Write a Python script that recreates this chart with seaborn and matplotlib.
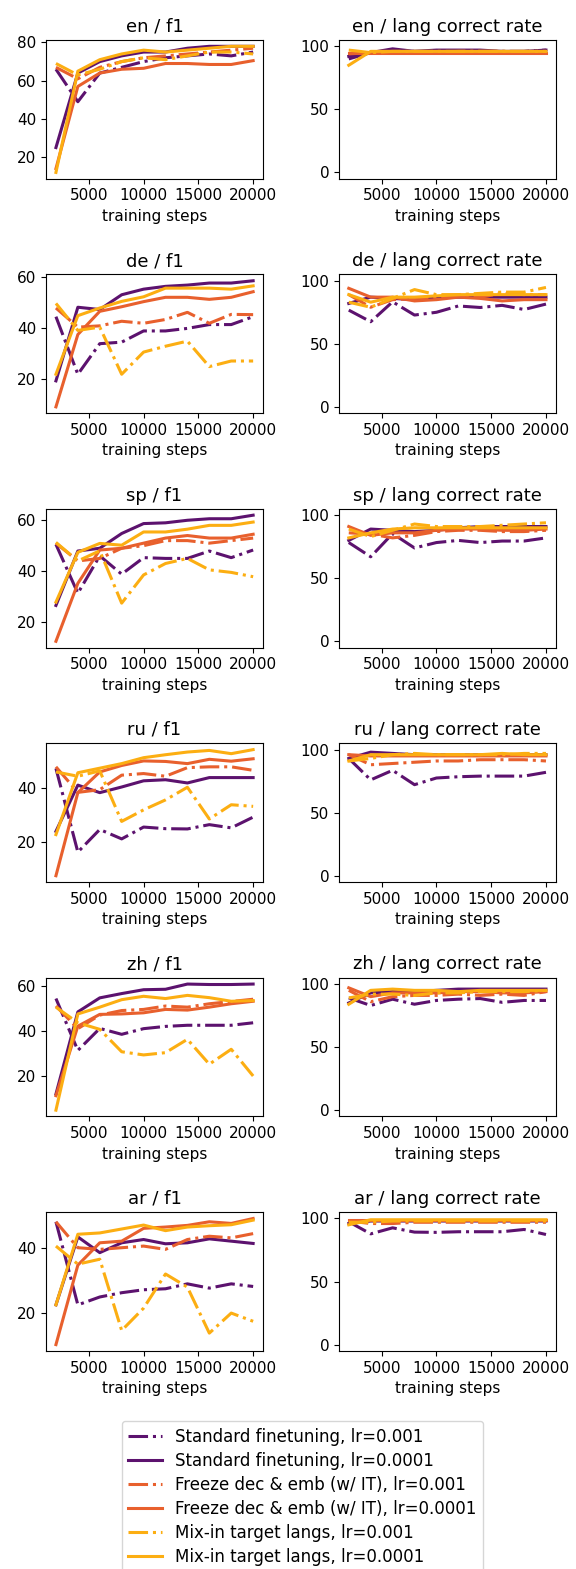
import numpy as np
import pandas as pd
import matplotlib
matplotlib.use("Agg")
import matplotlib.pyplot as plt
import seaborn as sns

steps = [2000, 4000, 6000, 8000, 10000, 12000, 14000, 16000, 18000, 20000]
langs = ["en", "de", "sp", "ru", "zh", "ar"]
series_labels = [
    "Standard finetuning, lr=0.001",
    "Standard finetuning, lr=0.0001",
    "Freeze dec & emb (w/ IT), lr=0.001",
    "Freeze dec & emb (w/ IT), lr=0.0001",
    "Mix-in target langs, lr=0.001",
    "Mix-in target langs, lr=0.0001",
]
series_colors = ["#5c126e", "#5c126e", "#e8602d", "#e8602d", "#fcae12", "#fcae12"]
series_styles = ["-.", "-", "-.", "-", "-.", "-"]

# f1 values per language, one list per series (order as series_labels)
f1_en = [
    [66, 49, 64, 67, 70, 72, 73, 74, 73, 75],
    [25, 64, 70, 73, 75, 75, 77, 78, 78, 78],
    [67, 61, 67, 70, 72, 73, 74, 75, 76, 77],
    [14, 57, 64, 66, 66.5, 69, 69, 68.5, 68.5, 70.5],
    [69, 63, 66, 70, 72, 71, 73, 75, 75, 74],
    [12, 65, 71, 74, 76, 75, 76, 77, 78, 78],
]
f1_de = [
    [44.6, 22, 34, 34.6, 39, 39, 40, 41.5, 41.5, 44.6],
    [19.4, 48.3, 47.4, 53.2, 55.4, 56.5, 57, 57.8, 57.8, 58.7],
    [48, 40.5, 41, 42.8, 42, 43.5, 46.3, 42, 45.5, 45.4],
    [9.2, 37.6, 46.7, 48.5, 50.5, 52.2, 52.2, 51.4, 52.2, 54.4],
    [49.8, 39.2, 40.5, 22, 30.7, 33, 35, 25, 27.2, 27.2],
    [22, 45, 48, 50.6, 52.4, 55.8, 55.8, 55.8, 55.4, 56.7],
]
f1_sp = [
    [50.5, 31.3, 46, 38.8, 45.3, 45, 45, 47.9, 45.3, 48.3],
    [26.5, 47.9, 49, 54.8, 58.7, 59, 60, 60.6, 60.6, 62],
    [51, 44, 45, 49, 50, 52, 52, 51, 52, 53],
    [12.4, 35.2, 48.3, 49, 51, 53, 54, 53, 53, 54.5],
    [51.3, 44, 48, 27.4, 38.5, 43, 45, 40.5, 39.5, 37.8],
    [27.8, 47.4, 50.9, 50.2, 55.4, 55.4, 56.5, 58, 58, 59.3],
]
f1_ru = [
    [47.4, 16.3, 24.7, 21.2, 25.6, 25, 24.9, 26.5, 25.3, 29.3],
    [24, 41.2, 38.4, 40.5, 42.8, 43.2, 42, 44, 44, 44],
    [48, 38.5, 39.5, 44.9, 45.5, 44.5, 47.7, 48, 48, 46.7],
    [7.5, 38.4, 46.1, 48.5, 50.2, 50, 49.2, 50.8, 50.1, 51],
    [46.1, 44.5, 46.5, 27.7, 32, 35.7, 40.4, 28.6, 33.9, 33.3],
    [22.8, 45.8, 47.5, 49.2, 51.4, 52.5, 53.5, 54.1, 52.9, 54.4],
]
f1_zh = [
    [54.3, 31.4, 41.1, 38.5, 41, 42, 42.5, 42.5, 42.5, 43.6],
    [12.1, 48.4, 54.6, 56.5, 58.2, 58.4, 60.7, 60.5, 60.5, 60.7],
    [51, 41, 47, 49, 49.5, 51, 50.5, 52, 53, 54],
    [11.4, 42.1, 47.3, 47.5, 48, 49.5, 49.2, 50.5, 52, 53.1],
    [50.5, 43.6, 40.7, 30.8, 29.4, 30.4, 36.3, 25.3, 31.9, 20.1],
    [5, 47.5, 50.5, 53.8, 55.3, 54.3, 55.7, 54.7, 53.1, 53.4],
]
f1_ar = [
    [47.9, 22.6, 25, 26.3, 27.2, 27.5, 29, 27.7, 29, 28.2],
    [22.6, 43.3, 38.5, 41.5, 42.5, 41.2, 41.5, 42.7, 42, 41.3],
    [47.9, 40, 39.5, 40, 40.5, 39.5, 42.5, 43.5, 43, 44.3],
    [10.5, 34.7, 41.5, 42, 45.9, 46.3, 46.8, 47.9, 47.4, 48.9],
    [40.5, 35, 36.5, 14.8, 21.6, 32, 28, 14, 20.1, 17.6],
    [22.6, 44.1, 44.5, 45.7, 46.9, 45.2, 46.3, 46.7, 47, 48.4],
]

# language correct rate per language
lcr_en = [
    [90, 95, 97, 96, 96, 96, 96, 96, 96, 97],
    [92, 95, 98, 96, 97, 97, 97, 96, 96, 97],
    [94, 95, 95, 95, 95, 96, 96, 96, 95, 95],
    [95, 95, 95, 95, 95, 95, 95, 95, 95, 95],
    [97, 95, 96, 96, 96, 96, 96, 96, 96, 96],
    [85, 96, 96, 96, 96, 96, 96, 96, 96, 96],
]
lcr_de = [
    [76.7, 67.5, 83.3, 72.8, 75, 80, 78.8, 80.5, 77.2, 81.5],
    [82, 87, 86, 85, 87, 87, 87, 87, 87, 87],
    [89, 79, 85, 86, 87, 88, 87, 90, 89, 89],
    [94, 87, 87, 84, 85, 87, 86, 84, 85, 85],
    [83, 79, 86, 93, 89, 89, 90, 91, 91, 94.7],
    [89, 83, 87, 87, 88, 89, 89, 89, 89, 89],
]
lcr_sp = [
    [78.3, 67, 85.4, 74, 78.3, 80, 78.3, 79.5, 79.5, 82],
    [80, 89, 88, 87, 88, 90, 91, 91, 91, 91],
    [86, 85, 82, 84, 87, 88, 88, 87, 87, 88],
    [91, 84, 86, 86, 88, 89, 89, 88, 88, 89],
    [89, 83, 88, 93, 91, 91, 91, 92, 93, 94],
    [82, 86, 89, 90, 90, 90, 90, 90, 90, 90],
]
lcr_ru = [
    [93, 76, 83.6, 72.2, 77.5, 78.5, 79, 79, 79, 82],
    [93, 98, 97, 96, 96, 96, 96, 96, 96, 96],
    [96, 88, 89, 90, 91, 91, 92, 92, 92, 91],
    [96, 95, 95, 95, 95, 95, 95, 95, 95, 95],
    [91, 93, 96, 97, 96, 96, 96, 96, 97, 97],
    [91, 96, 96, 96, 96, 96, 96, 97, 96, 96],
]
lcr_zh = [
    [89, 83, 88, 84, 87, 88, 88.5, 85.5, 87, 87],
    [85, 93, 94, 94, 95, 96, 96, 96, 96, 96],
    [95, 86, 90, 91, 91, 92, 91, 92, 91, 94],
    [97, 90, 93, 93, 93, 94, 94, 93, 93, 94],
    [89, 92, 92, 91, 93, 93, 94, 94, 94, 95],
    [84, 95, 96, 95, 95, 94, 95, 95, 95, 95],
]
lcr_ar = [
    [97.4, 87.8, 92.6, 89.2, 89, 89.5, 89.5, 89.5, 91.3, 87.3],
    [96, 98, 98, 98, 98, 98, 98, 98, 98, 98],
    [98, 96, 96, 97, 97, 97, 97, 97, 97, 97],
    [99, 99, 99, 99, 99, 99, 99, 99, 99, 99],
    [97, 97, 98, 98, 98, 98, 98, 98, 98, 98],
    [95, 99, 99, 99, 99, 99, 99, 99, 99, 99],
]

f1_all = [f1_en, f1_de, f1_sp, f1_ru, f1_zh, f1_ar]
lcr_all = [lcr_en, lcr_de, lcr_sp, lcr_ru, lcr_zh, lcr_ar]

plt.rcParams["font.family"] = ["DejaVu Sans"]
plt.rcParams["font.size"] = 11

fig, axes = plt.subplots(6, 2, figsize=(5.76, 15.69), dpi=100)
fig.subplots_adjust(left=0.080, right=0.965, top=0.9745, bottom=0.139,
                    wspace=0.35, hspace=0.69)

handles = []
for r, lang in enumerate(langs):
    for c, (metric, data) in enumerate([("f1", f1_all[r]), ("lang correct rate", lcr_all[r])]):
        ax = axes[r, c]
        for s, vals in enumerate(data):
            df = pd.DataFrame({"step": steps, "value": vals})
            sns.lineplot(data=df, x="step", y="value", ax=ax,
                         color=series_colors[s], linestyle=series_styles[s],
                         linewidth=2.2, label=series_labels[s], legend=False)
        ax.set_title(f"{lang} / {metric}", fontsize=13)
        ax.set_xlabel("training steps", fontsize=11)
        ax.set_ylabel("")
        ax.set_xticks([5000, 10000, 15000, 20000])
        ax.tick_params(labelsize=11)
        if c == 1:
            ax.set_ylim(-5, 105)
            ax.set_yticks([0, 50, 100])
        if r == 0 and c == 0:
            handles, labels = ax.get_legend_handles_labels()

fig.legend(handles, series_labels, loc="upper center",
           bbox_to_anchor=(0.525, 0.0975), fontsize=12, frameon=True,
           labelspacing=0.36, borderaxespad=0.3)

fig.savefig("out.png", dpi=100)
